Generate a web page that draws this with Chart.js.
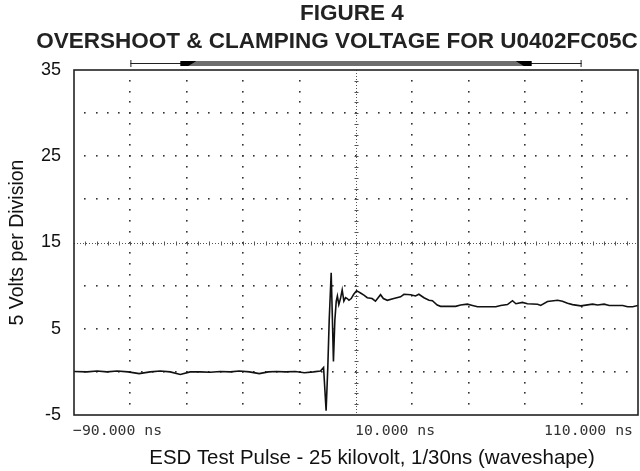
<!DOCTYPE html>
<html>
<head>
<meta charset="utf-8">
<script src="https://cdn.jsdelivr.net/npm/chart.js@4.4.1/dist/chart.umd.min.js"></script>
<style>
  html, body { margin: 0; padding: 0; background: #fff; }
  #wrap { width: 640px; height: 471px; }
</style>
</head>
<body>
<div id="wrap"><canvas id="scopeChart" width="640" height="471"></canvas></div>
<script>
// scope trace (ns, volts)
const timeNs = [-90, -85.4, -81.8, -78.3, -74.7, -70.8, -66.9, -63.0, -59.4, -55.9, -52.3, -48.8, -45.2,
  -41.7, -38.1, -34.6, -31.4, -27.8, -24.3, -21.1, -18.2, -15.0, -11.5, -8.3, -5.1, -2.6,
  -1.5, -0.6, 0.0, 0.5, 1.2, 1.6, 2.0, 2.5, 3.0, 3.4, 3.9, 4.5, 5.1, 5.7, 6.3, 6.9, 7.5, 8.3, 9.2,
  10.2, 10.8, 11.6, 12.8, 14.0, 15.7, 16.9, 18.7, 19.7, 21.1, 23.4, 25.8, 27.0, 29.4, 31.1, 32.3,
  34.1, 35.9, 37.1, 38.8, 40.0, 45.3, 47.1, 49.5, 51.3, 53.1, 59.6, 61.3, 63.7, 65.5, 66.7, 69.0,
  70.8, 74.4, 75.5, 77.9, 81.5, 83.2, 85.0, 86.8, 89.7, 93.9, 95.7, 98.0, 99.8, 104.6, 106.3, 108.1, 110];
const voltage = [0.05, 0.0, 0.1, 0.0, 0.1, 0.0, -0.2, 0.0, 0.1, 0.0, -0.3, 0.0, 0.0,
  -0.05, 0.05, 0.0, 0.1, 0.0, -0.2, 0.0, 0.05, 0.0, 0.05, -0.1, 0.0, 0.1,
  0.5, -4.5, 0.5, 6.0, 11.5, 6.5, 1.2, 6.0, 8.2, 8.8, 7.8, 8.5, 9.5, 8.2, 8.6, 8.5, 8.3, 8.5, 9.0,
  9.4, 9.3, 9.15, 8.9, 8.6, 8.5, 8.2, 8.95, 8.5, 8.3, 8.5, 8.7, 9.0, 8.95, 8.8, 9.0,
  8.6, 8.3, 8.25, 7.75, 7.6, 7.6, 7.75, 7.85, 7.7, 7.55, 7.55, 7.7, 7.8, 8.25, 7.9, 8.05,
  7.9, 7.85, 7.7, 8.15, 8.3, 8.2, 7.95, 7.8, 7.65, 7.85, 7.75, 7.85, 7.7, 7.7, 7.55, 7.55, 7.7];

const xTickValues = [-90, 10, 110];
const xTickLabels = ['\u221290.000 ns', '10.000 ns', '110.000 ns'];
const titleLines = ['FIGURE 4', 'OVERSHOOT & CLAMPING VOLTAGE FOR U0402FC05C'];
const xTitle = 'ESD Test Pulse - 25 kilovolt, 1/30ns (waveshape)';
const yTitle = '5 Volts per Division';

const X_MIN = -90, X_MAX = 110, X_DIV = 20, X_MINOR = 4;
const Y_MIN = -5, Y_MAX = 35, Y_DIV = 5, Y_MINOR = 1.25;

// oscilloscope graticule: dotted divisions, denser centre cross, frame
const graticule = {
  id: 'graticule',
  beforeDatasetsDraw(chart) {
    const { ctx, chartArea: a, scales: { x, y } } = chart;
    ctx.save();
    ctx.fillStyle = '#333';
    const xc = (X_MIN + X_MAX) / 2, yc = (Y_MIN + Y_MAX) / 2;
    // horizontal rows of dots
    for (let v = Y_MIN + Y_DIV; v < Y_MAX; v += Y_DIV) {
      if (v === yc) continue;
      const py = Math.round(y.getPixelForValue(v));
      for (let t = X_MIN + X_MINOR; t < X_MAX; t += X_MINOR) {
        ctx.fillRect(Math.round(x.getPixelForValue(t)) - 1, py - 1, 1.6, 1.6);
      }
    }
    // vertical columns of dots
    for (let t = X_MIN + X_DIV; t < X_MAX; t += X_DIV) {
      if (t === xc) continue;
      const px = Math.round(x.getPixelForValue(t));
      for (let v = Y_MIN + Y_MINOR; v < Y_MAX; v += Y_MINOR) {
        ctx.fillRect(px - 1, Math.round(y.getPixelForValue(v)) - 1, 1.6, 1.6);
      }
    }
    // centre cross
    const cx = Math.round(x.getPixelForValue(xc)) + 0.5;
    const cy = Math.round(y.getPixelForValue(yc)) + 0.5;
    ctx.strokeStyle = '#555';
    ctx.lineWidth = 1;
    ctx.setLineDash([1, 2]);
    ctx.beginPath();
    ctx.moveTo(cx, a.top); ctx.lineTo(cx, a.bottom);
    ctx.moveTo(a.left, cy); ctx.lineTo(a.right, cy);
    ctx.stroke();
    ctx.setLineDash([]);
    ctx.beginPath();
    for (let t = X_MIN + X_MINOR; t < X_MAX; t += X_MINOR) {
      const px = Math.round(x.getPixelForValue(t)) + 0.5;
      ctx.moveTo(px, cy - 2); ctx.lineTo(px, cy + 2);
    }
    for (let v = Y_MIN + Y_MINOR; v < Y_MAX; v += Y_MINOR) {
      const py = Math.round(y.getPixelForValue(v)) + 0.5;
      ctx.moveTo(cx - 2, py); ctx.lineTo(cx + 2, py);
    }
    ctx.stroke();
    ctx.restore();
  },
  afterDraw(chart) {
    const { ctx, chartArea: a, scales: { x } } = chart;
    ctx.save();
    // frame
    ctx.strokeStyle = '#222';
    ctx.lineWidth = 1.6;
    ctx.strokeRect(a.left, a.top, a.right - a.left, a.bottom - a.top);

    // memory / trigger bar above the screen
    const bx0 = x.getPixelForValue(-70), bx1 = x.getPixelForValue(90);
    const tx0 = x.getPixelForValue(-52.3), tx1 = x.getPixelForValue(72.3);
    const by = a.top - 7;
    ctx.lineWidth = 1;
    ctx.strokeStyle = '#222';
    ctx.beginPath();
    ctx.moveTo(bx0, by + 0.5); ctx.lineTo(bx1, by + 0.5);
    ctx.moveTo(bx0 + 0.5, by - 3); ctx.lineTo(bx0 + 0.5, by + 4);
    ctx.moveTo(bx1 - 0.5, by - 3); ctx.lineTo(bx1 - 0.5, by + 4);
    ctx.stroke();
    ctx.fillStyle = '#000';
    ctx.fillRect(tx0, by - 2, tx1 - tx0, 5);
    ctx.fillStyle = '#6e6e6e';
    ctx.beginPath();
    ctx.moveTo(tx0 + 8, by + 3); ctx.lineTo(tx0 + 16, by - 2);
    ctx.lineTo(tx1 - 16, by - 2); ctx.lineTo(tx1 - 8, by + 3);
    ctx.closePath(); ctx.fill();

    // x tick labels (scope style: first/centre left-aligned, last right-aligned)
    ctx.font = '14.8px "DejaVu Sans Mono", monospace';
    ctx.fillStyle = '#333';
    ctx.textBaseline = 'middle';
    xTickValues.forEach((v, i) => {
      const px = x.getPixelForValue(v);
      if (i === xTickValues.length - 1) {
        ctx.textAlign = 'right';
        ctx.fillText(xTickLabels[i], px - 5, a.bottom + 16);
      } else {
        ctx.textAlign = 'left';
        ctx.fillText(xTickLabels[i], px - 1, a.bottom + 16);
      }
    });

    // x axis title
    ctx.font = '20.4px "Liberation Sans", Arial, sans-serif';
    ctx.fillStyle = '#111';
    ctx.textAlign = 'center';
    ctx.fillText(xTitle, (a.left + a.right) / 2 + 16, a.bottom + 43);

    // figure titles
    ctx.font = 'bold 22.5px "Liberation Sans", Arial, sans-serif';
    ctx.fillStyle = '#222';
    ctx.fillText(titleLines[0], 352, 14);
    ctx.fillText(titleLines[1], 337, 42);
    ctx.restore();
  }
};

const chart = new Chart(document.getElementById('scopeChart'), {
  type: 'line',
  data: {
    datasets: [{
      data: timeNs.map((t, i) => ({ x: t, y: voltage[i] })),
      borderColor: '#111',
      borderWidth: 1.6,
      pointRadius: 0,
      tension: 0,
      fill: false
    }]
  },
  options: {
    responsive: false,
    animation: false,
    layout: { padding: { top: 70, right: 2, bottom: 56, left: 0 } },
    plugins: { legend: { display: false }, tooltip: { enabled: false } },
    scales: {
      x: {
        type: 'linear',
        min: X_MIN,
        max: X_MAX,
        display: false
      },
      y: {
        min: Y_MIN,
        max: Y_MAX,
        grid: { display: false, drawTicks: false },
        border: { display: false },
        ticks: {
          stepSize: 10,
          padding: 13,
          color: '#111',
          font: { size: 18, family: '"Liberation Sans", Arial, sans-serif' }
        },
        title: {
          display: true,
          text: yTitle,
          color: '#111',
          padding: { top: 6, bottom: 0 },
          font: { size: 19.5, family: '"Liberation Sans", Arial, sans-serif' }
        },
        afterFit(scale) { scale.width = 74; }
      }
    }
  },
  plugins: [graticule]
});
</script>
</body>
</html>
